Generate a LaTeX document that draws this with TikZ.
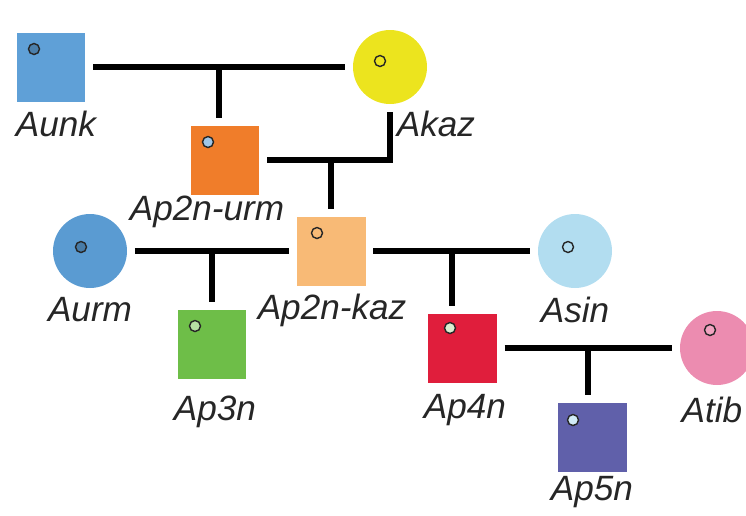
\documentclass[tikz,border=0pt]{standalone}
\usepackage{fontspec}
\setmainfont{Liberation Sans}
\definecolor{cunk}{RGB}{95,160,215}
\definecolor{ckaz}{RGB}{236,228,30}
\definecolor{curm}{RGB}{240,125,42}
\definecolor{cpkaz}{RGB}{248,186,118}
\definecolor{caurm}{RGB}{90,155,210}
\definecolor{cthree}{RGB}{110,190,72}
\definecolor{csin}{RGB}{178,221,240}
\definecolor{cfour}{RGB}{224,30,60}
\definecolor{cfive}{RGB}{96,96,170}
\definecolor{ctib}{RGB}{236,140,176}

\begin{document}
\begin{tikzpicture}[x=0.02cm,y=-0.02cm,
  sq/.style={minimum size=1.38cm, inner sep=0pt, outer sep=0.16cm},
  ci/.style={circle, minimum size=1.48cm, inner sep=0pt, outer sep=0.16cm},
  dot/.style={circle, draw=black!85, line width=0.8pt, minimum size=0.22cm, inner sep=0pt},
  lbl/.style={font=\fontsize{20}{24}\selectfont\itshape, text=black!85, inner sep=0pt},
  link/.style={line width=3.4pt}]
\useasboundingbox (0,0) rectangle (746,515);

\node[sq, fill=cunk] (aunk) at (51,67) {};
\node[ci, fill=ckaz] (akaz) at (390,67) {};
\node[sq, fill=curm] (urm) at (225,160) {};
\node[sq, fill=cpkaz] (pkaz) at (331,251) {};
\node[ci, fill=caurm] (aurm) at (90,251) {};
\node[sq, fill=cthree] (three) at (212,344) {};
\node[ci, fill=csin] (asin) at (575,251) {};
\node[sq, fill=cfour] (four) at (462,348) {};
\node[ci, fill=ctib] (atib) at (717,348) {};
\node[sq, fill=cfive] (five) at (592,437) {};

\node[dot, fill=cunk!80!black] (aunk-d) at (34,49) {};
\node[dot, fill=ckaz] (akaz-d) at (380,61) {};
\node[dot, fill=cunk!60!white] (urm-d) at (208,142) {};
\node[dot, fill=cpkaz] (pkaz-d) at (317,233) {};
\node[dot, fill=caurm!80!black] (aurm-d) at (81,247) {};
\node[dot, fill=cthree!50!white] (three-d) at (195,326) {};
\node[dot, fill=csin] (asin-d) at (568,247) {};
\node[dot, fill=cthree!25!white] (four-d) at (450,328) {};
\node[dot, fill=csin!60!white] (five-d) at (573,420) {};
\node[dot, fill=ctib!80!white] (atib-d) at (710,330) {};

\node[lbl] (aunk-l) at (56,124) {Aunk};
\node[lbl] (akaz-l) at (436,124) {Akaz};
\node[lbl] (urm-l) at (207,212) {Ap2n-urm};
\node[lbl] (pkaz-l) at (332,310) {Ap2n-kaz};
\node[lbl] (aurm-l) at (90,310) {Aurm};
\node[lbl] (three-l) at (215,412) {Ap3n};
\node[lbl] (asin-l) at (575,310) {Asin};
\node[lbl] (four-l) at (465,410) {Ap4n};
\node[lbl] (atib-l) at (712,410) {Atib};
\node[lbl] (five-l) at (592,492) {Ap5n};

\draw[link] (aunk) -- coordinate (m1) (akaz);
\draw[link] (m1) -- (m1 |- urm.north);
\draw[link] (akaz) |- (urm);
\draw[link] (pkaz) -- (pkaz |- urm);
\draw[link] (aurm) -- coordinate (m2) (pkaz);
\draw[link] (m2) -- (m2 |- three.north);
\draw[link] (pkaz) -- coordinate (m3) (asin);
\draw[link] (m3) -- (m3 |- four.north);
\draw[link] (four) -- coordinate (m4) (atib);
\draw[link] (m4) -- (m4 |- five.north);
\end{tikzpicture}
\end{document}
